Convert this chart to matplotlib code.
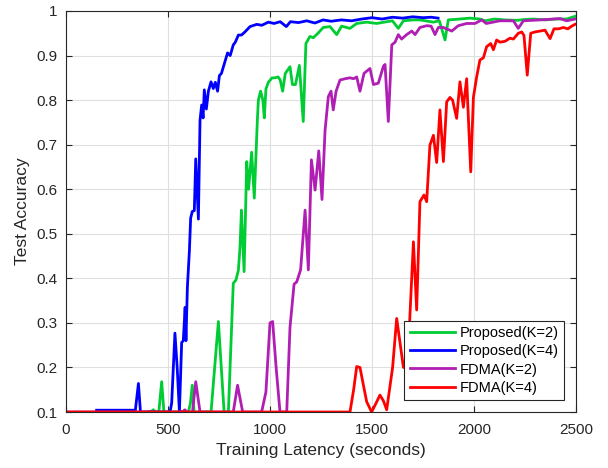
import matplotlib
matplotlib.use("Agg")
import matplotlib.pyplot as plt

plt.rcParams['font.family'] = ['Liberation Sans', 'DejaVu Sans']

# Proposed (K=2)
green_x = [400, 420, 428, 440, 455, 469, 480, 520, 600, 610, 619, 628, 700, 711, 747, 775, 796,
           820, 833, 845, 853, 860, 873, 886, 895, 910, 923, 938, 943, 954, 965, 972, 980, 992,
           1010, 1025, 1040, 1050, 1062, 1075, 1098, 1110, 1125, 1144, 1163, 1176, 1196, 1212,
           1237, 1261, 1294, 1327, 1351, 1392, 1425, 1474, 1523, 1560, 1600, 1629, 1654, 1700,
           1735, 1801, 1830, 1858, 1874, 1931, 1980, 2029, 2054, 2100, 2150, 2209, 2250, 2291,
           2350, 2400, 2454, 2495]
green_y = [0.1, 0.102, 0.105, 0.1, 0.1, 0.168, 0.1, 0.1, 0.1, 0.12, 0.16, 0.1, 0.1, 0.1, 0.303,
           0.1, 0.1, 0.389, 0.396, 0.418, 0.47, 0.553, 0.415, 0.662, 0.6, 0.683, 0.58, 0.755,
           0.8, 0.82, 0.8, 0.76, 0.825, 0.84, 0.85, 0.85, 0.852, 0.845, 0.82, 0.86, 0.875, 0.835,
           0.835, 0.878, 0.752, 0.927, 0.943, 0.94, 0.951, 0.963, 0.965, 0.947, 0.966, 0.961,
           0.972, 0.975, 0.972, 0.975, 0.978, 0.961, 0.978, 0.98, 0.98, 0.975, 0.978, 0.935,
           0.98, 0.982, 0.984, 0.982, 0.978, 0.982, 0.98, 0.979, 0.981, 0.982, 0.98, 0.982,
           0.982, 0.988]

# Proposed (K=4)
blue_x = [150, 200, 250, 300, 340, 355, 365, 400, 450, 500, 510, 518, 534, 545, 556, 567, 575,
          584, 588, 595, 605, 611, 619, 629, 636, 649, 657, 665, 672, 678, 688, 698, 711, 722,
          732, 743, 752, 762, 775, 792, 805, 820, 830, 845, 860, 877, 902, 935, 960, 992, 1020,
          1050, 1080, 1100, 1140, 1180, 1220, 1260, 1300, 1350, 1400, 1450, 1500, 1550, 1600,
          1650, 1700, 1750, 1790, 1824]
blue_y = [0.104, 0.104, 0.104, 0.104, 0.104, 0.164, 0.1, 0.1, 0.1, 0.1, 0.1, 0.12, 0.277, 0.2,
          0.1, 0.256, 0.26, 0.335, 0.26, 0.38, 0.463, 0.535, 0.55, 0.552, 0.668, 0.533, 0.755,
          0.789, 0.76, 0.823, 0.78, 0.82, 0.841, 0.826, 0.84, 0.82, 0.855, 0.86, 0.88, 0.906,
          0.9, 0.924, 0.93, 0.946, 0.946, 0.953, 0.965, 0.97, 0.968, 0.975, 0.972, 0.976, 0.965,
          0.976, 0.974, 0.978, 0.973, 0.98, 0.977, 0.98, 0.978, 0.982, 0.985, 0.982, 0.986,
          0.984, 0.987, 0.985, 0.986, 0.984]

# FDMA (K=2)
mag_x = [0, 560, 575, 583, 592, 620, 636, 657, 820, 841, 866, 959, 980, 1000, 1013, 1030, 1049,
         1082, 1098, 1118, 1131, 1150, 1172, 1188, 1203, 1221, 1239, 1255, 1270, 1286, 1299,
         1310, 1324, 1343, 1368, 1392, 1410, 1425, 1441, 1461, 1490, 1507, 1531, 1556, 1564,
         1580, 1597, 1613, 1629, 1645, 1670, 1695, 1711, 1735, 1768, 1790, 1809, 1825, 1850,
         1891, 1923, 1964, 2005, 2038, 2060, 2127, 2193, 2217, 2242, 2324, 2422, 2454, 2495]
mag_y = [0.1, 0.1, 0.102, 0.105, 0.1, 0.1, 0.168, 0.1, 0.1, 0.16, 0.1, 0.1, 0.145, 0.3, 0.303,
         0.2, 0.1, 0.1, 0.29, 0.387, 0.392, 0.419, 0.553, 0.419, 0.666, 0.598, 0.686, 0.577,
         0.733, 0.808, 0.82, 0.778, 0.82, 0.845, 0.848, 0.85, 0.848, 0.852, 0.82, 0.86, 0.871,
         0.835, 0.838, 0.876, 0.88, 0.752, 0.924, 0.93, 0.947, 0.937, 0.947, 0.955, 0.947, 0.963,
         0.967, 0.966, 0.947, 0.963, 0.963, 0.955, 0.967, 0.972, 0.972, 0.98, 0.972, 0.978,
         0.978, 0.961, 0.978, 0.98, 0.983, 0.978, 0.982]

# FDMA (K=4)
red_x = [0, 1392, 1410, 1425, 1441, 1458, 1474, 1498, 1520, 1539, 1556, 1572, 1601, 1621, 1654,
         1678, 1703, 1719, 1735, 1755, 1768, 1784, 1801, 1817, 1833, 1850, 1866, 1882, 1895,
         1915, 1931, 1948, 1964, 1984, 1997, 2013, 2029, 2046, 2062, 2082, 2095, 2111, 2127,
         2152, 2176, 2193, 2217, 2234, 2245, 2261, 2278, 2299, 2324, 2348, 2373, 2392, 2415,
         2438, 2460, 2479, 2495]
red_y = [0.1, 0.1, 0.15, 0.202, 0.2, 0.16, 0.123, 0.1, 0.12, 0.138, 0.125, 0.105, 0.2, 0.31,
         0.2, 0.239, 0.482, 0.329, 0.572, 0.587, 0.572, 0.699, 0.721, 0.66, 0.778, 0.662, 0.796,
         0.806, 0.8, 0.759, 0.841, 0.784, 0.848, 0.639, 0.806, 0.852, 0.89, 0.895, 0.92, 0.927,
         0.913, 0.935, 0.93, 0.932, 0.939, 0.937, 0.95, 0.953, 0.945, 0.856, 0.95, 0.953, 0.955,
         0.957, 0.938, 0.96, 0.96, 0.963, 0.96, 0.966, 0.97]

labels = ['Proposed(K=2)', 'Proposed(K=4)', 'FDMA(K=2)', 'FDMA(K=4)']
colors = ['#00CC33', '#0000FF', '#B01EB4', '#FF0000']

xticks = [0, 500, 1000, 1500, 2000, 2500]
yticks = [0.1, 0.2, 0.3, 0.4, 0.5, 0.6, 0.7, 0.8, 0.9, 1.0]
ytick_labels = ['0.1', '0.2', '0.3', '0.4', '0.5', '0.6', '0.7', '0.8', '0.9', '1']

fig = plt.figure(figsize=(6.08, 4.68), dpi=100)
ax = fig.add_axes([66/608, 1 - 412/468, 510/608, 401/468])

series = [(green_x, green_y), (blue_x, blue_y), (mag_x, mag_y), (red_x, red_y)]
for (xs, ys), lab, c in zip(series, labels, colors):
    ax.plot(xs, ys, color=c, lw=2.0, label=lab)

ax.set_xlim(0, 2500)
ax.set_ylim(0.1, 1.0)
ax.set_xticks(xticks)
ax.set_yticks(yticks)
ax.set_yticklabels(ytick_labels)
ax.grid(True, color='#DFDFDF', lw=0.8)
ax.set_axisbelow(True)
for s in ax.spines.values():
    s.set_color('#262626')
    s.set_linewidth(0.8)
ax.tick_params(direction='in', length=4, width=0.8, color='#262626',
               labelsize=11, labelcolor='#262626', top=True, right=True,
               labeltop=False, labelright=False)
ax.tick_params(axis='x', pad=8)
ax.tick_params(axis='y', pad=6)
ax.set_xlabel('Training Latency (seconds)', fontsize=12.5, color='#262626', labelpad=4)
ax.set_ylabel('Test Accuracy', fontsize=12.5, color='#262626', labelpad=5)

leg = ax.legend(loc='lower right', bbox_to_anchor=(564/608, 1 - 400/468),
                bbox_transform=fig.transFigure, fontsize=10.5, frameon=True, fancybox=False,
                edgecolor='#262626', framealpha=1, handlelength=3.1, labelspacing=0.3,
                borderpad=0.35, handletextpad=0.35, borderaxespad=0)
leg.get_frame().set_linewidth(0.8)

fig.savefig('out.png', dpi=100)
